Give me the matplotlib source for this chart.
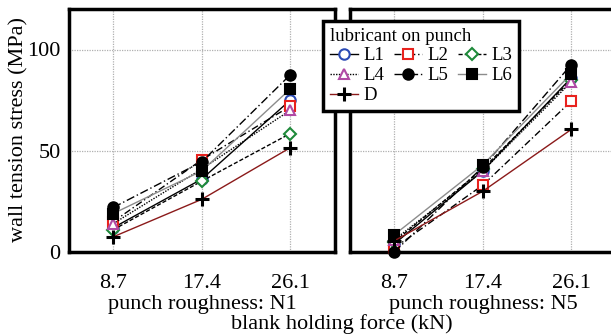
import matplotlib

matplotlib.use("Agg")

import matplotlib.pyplot as plt

plt.rcParams["font.family"] = ["Liberation Serif", "DejaVu Serif"]

# blank holding force (kN)
forces = [8.7, 17.4, 26.1]
force_labels = ["8.7", "17.4", "26.1"]

# wall tension stress (MPa), punch roughness N1
n1_L1 = [12, 36, 75]
n1_L2 = [15, 45.5, 72]
n1_L3 = [11, 35, 58.5]
n1_L4 = [14, 41, 70]
n1_L5 = [22, 44.5, 87.5]
n1_L6 = [19, 40, 80.5]
n1_D = [7.5, 26, 51.5]

# wall tension stress (MPa), punch roughness N5
n5_L1 = [4, 40, 86]
n5_L2 = [2, 33, 74.5]
n5_L3 = [5, 41, 85]
n5_L4 = [6, 40, 84]
n5_L5 = [0, 42, 92.5]
n5_L6 = [8.5, 43, 88]
n5_D = [5.5, 30, 60.5]

series_names = ["L1", "L2", "L3", "L4", "L5", "L6", "D"]
n1_values = [n1_L1, n1_L2, n1_L3, n1_L4, n1_L5, n1_L6, n1_D]
n5_values = [n5_L1, n5_L2, n5_L3, n5_L4, n5_L5, n5_L6, n5_D]

# line / marker style per lubricant
STYLES = {
    "L1": dict(color="black", linestyle="-", marker="o", mfc="white", mec="#2b4bb5"),
    "L2": dict(color="black", linestyle=(0, (5, 2, 1, 2)), marker="s", mfc="white", mec="#e8221e"),
    "L3": dict(color="black", linestyle=(0, (3, 1.5)), marker="D", mfc="white", mec="#1e8a3a", ms=6),
    "L4": dict(color="black", linestyle=(0, (1, 1)), marker="^", mfc="white", mec="#b04aa5"),
    "L5": dict(color="black", linestyle=(0, (6, 2, 1, 2)), marker="o", mfc="black", mec="black"),
    "L6": dict(color="#8c8c8c", linestyle="-", marker="s", mfc="black", mec="black"),
    "D": dict(color="#8b1a1a", linestyle="-", marker="P", mfc="black", mec="black"),
}

W, H = 611, 335
fig = plt.figure(figsize=(W / 100, H / 100), dpi=100)


def px_axes(x0, y_top, width, height):
    """Axes placed with pixel coordinates (origin top-left)."""
    return fig.add_axes([x0 / W, 1 - (y_top + height) / H, width / W, height / H])


ax_n1 = px_axes(69, 9, 266, 243)
ax_n5 = px_axes(350, 9, 266, 243)

handles = {}
for ax, values in ((ax_n1, n1_values), (ax_n5, n5_values)):
    for name, vals in zip(series_names, values):
        st = dict(STYLES[name])
        marker = st.pop("marker")
        ms = st.pop("ms", 7.5)
        if name == "D":
            (line,) = ax.plot(forces, vals, color=st["color"], linestyle=st["linestyle"],
                              linewidth=1.0, marker="+", markersize=10, markeredgewidth=2.2,
                              markeredgecolor="black", label=name, zorder=3)
        else:
            (line,) = ax.plot(forces, vals, color=st["color"], linestyle=st["linestyle"],
                              linewidth=1.0, marker=marker, markersize=ms,
                              markerfacecolor=st["mfc"], markeredgecolor=st["mec"],
                              markeredgewidth=1.5, label=name, zorder=3)
        if ax is ax_n1:
            handles[name] = line

    ax.set_xlim(4.35, 30.5)
    ax.set_ylim(0, 120)
    ax.set_xticks(forces)
    ax.set_xticklabels(force_labels)
    ax.set_yticks([0, 50, 100])
    ax.tick_params(axis="x", length=0, labelsize=16, pad=16)
    ax.tick_params(axis="y", length=0, labelsize=16, pad=6)
    ax.grid(True, linestyle=(0, (1, 1)), color="#b0b0b0", linewidth=0.9)
    for spine in ax.spines.values():
        spine.set_linewidth(2.5)
    for m in ax.lines:
        m.set_clip_on(False)

ax_n5.set_yticklabels([])

fig.text(19 / W, 1 - 130 / H, "wall tension stress (MPa)", rotation=90,
         ha="center", va="center", fontsize=16)
fig.text(202 / W, 1 - 304 / H, "punch roughness: N1", ha="center", va="center", fontsize=16)
fig.text(483 / W, 1 - 304 / H, "punch roughness: N5", ha="center", va="center", fontsize=16)
fig.text(342 / W, 1 - 324 / H, "blank holding force (kN)", ha="center", va="center", fontsize=16)

# legend fills column by column; reorder so rows read L1 L2 L3 / L4 L5 L6 / D
leg_order = ["L1", "L4", "D", "L2", "L5", "L3", "L6"]
leg = fig.legend(handles=[handles[n] for n in leg_order], labels=leg_order, ncol=3,
                 loc="upper left", bbox_to_anchor=(323 / W, 1 - 21 / H), borderaxespad=0,
                 title="lubricant on punch", fontsize=13.5, title_fontsize=13.5,
                 frameon=True, fancybox=False, framealpha=1,
                 handlelength=1.5, handletextpad=0.3, columnspacing=0.5,
                 labelspacing=0.15, borderpad=0.35, alignment="left")
leg.get_frame().set_edgecolor("black")
leg.get_frame().set_linewidth(2.5)

fig.savefig("out.png", dpi=100)
